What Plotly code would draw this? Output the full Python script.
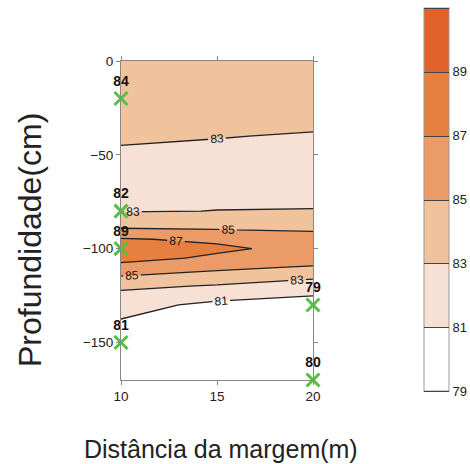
import plotly.graph_objects as go

# Grid (depth in cm, distance in m, value per column)
depth_cm = [0, -20, -40, -60, -80, -90, -95, -100, -105, -110, -115, -120, -125, -130, -140, -150, -170]
dist_m = [10, 15, 20]
value_at_10m = [84.5, 84.0, 83.2, 82.4, 82.9, 85.2, 87.2, 89.0, 87.8, 86.2, 84.9, 83.5, 82.4, 81.6, 80.8, 80.7, 80.5]
value_at_15m = [84.35, 83.9, 83.05, 82.35, 83.02, 85.05, 86.6, 87.4, 86.6, 85.4, 84.2, 82.8, 81.6, 80.6, 80.0, 80.1, 80.3]
value_at_20m = [84.2, 83.8, 82.9, 82.3, 83.05, 84.8, 86.0, 86.3, 86.0, 84.8, 83.2, 82.4, 81.05, 79.1, 79.3, 79.6, 80.0]

# Sampled points
sample_dist = [10, 10, 10, 10, 20, 20]
sample_depth = [-20, -80, -100, -150, -130, -170]
sample_value = [84, 82, 89, 81, 79, 80]

levels_start, levels_end, levels_step = 79, 91, 2
colorbar_ticks = [79, 81, 83, 85, 87, 89]
# band colours: 79-81, 81-83, 83-85, 85-87, 87-89, 89-91
band_colors = ["#ffffff", "#f6e1d4", "#f1c39c", "#eb9b67", "#e67f3f", "#df632b"]

z = [[a, b, c] for a, b, c in zip(value_at_10m, value_at_15m, value_at_20m)]

# colorscale for the contour fill (one extra slot on each end for <79 and >91)
fill_colors = [band_colors[0]] + band_colors + [band_colors[-1]]
fill_scale = [[i / (len(fill_colors) - 1), c] for i, c in enumerate(fill_colors)]
# stepped colorscale for the key
n = len(band_colors)
key_scale = []
for i, c in enumerate(band_colors):
    key_scale.append([i / n, c])
    key_scale.append([(i + 1) / n, c])

W, H = 470, 464
PLOT_L, PLOT_W = 121, 192
PLOT_TOP, PLOT_H = 61, 319
cb_common = dict(
    xref="container", x=424 / W, xanchor="left", xpad=0,
    yref="paper", y=1 + (PLOT_TOP - 8) / PLOT_H, yanchor="top", ypad=0,
    lenmode="pixels", len=383, thickness=25,
)

fig = go.Figure()
# colour key (bands)
fig.add_trace(go.Scatter(
    x=[sample_dist[0]], y=[sample_depth[0]], mode="markers",
    marker=dict(size=1, opacity=0, color=[levels_start], cmin=levels_start, cmax=levels_end,
                colorscale=key_scale, showscale=True,
                colorbar=dict(**cb_common, outlinecolor="#999", outlinewidth=1,
                              tickvals=colorbar_ticks, ticks="",
                              tickfont=dict(family="Arial", size=13, color="#222"))),
    hoverinfo="skip", showlegend=False,
))
# contour lines (also gives the level separators in the key)
fig.add_trace(go.Contour(
    x=dist_m, y=depth_cm, z=z,
    colorscale=[[0, "#444444"], [1, "#444444"]],
    contours=dict(start=levels_start, end=levels_end, size=levels_step, coloring="lines", showlabels=False),
    line=dict(width=1, smoothing=0),
    colorbar=dict(**cb_common, outlinewidth=0, showticklabels=False, ticks=""),
    hoverinfo="skip",
))
# filled contours with labels
fig.add_trace(go.Contour(
    x=dist_m, y=depth_cm, z=z,
    colorscale=fill_scale, showscale=False,
    contours=dict(start=levels_start, end=levels_end, size=levels_step, coloring="fill", showlabels=True,
                  labelfont=dict(family="Arial", size=12, color="#111")),
    line=dict(color="#222", width=1.3, smoothing=0),
    hoverinfo="skip",
))
fig.add_trace(go.Scatter(
    x=sample_dist, y=sample_depth,
    mode="markers+text",
    text=[str(v) for v in sample_value],
    textposition="top center",
    textfont=dict(family="Arial", size=14, color="#111", weight="bold"),
    marker=dict(symbol="x-thin", size=13, line=dict(width=3, color="#58c043")),
    cliponaxis=False,
    showlegend=False,
))

axis_common = dict(
    ticks="outside", ticklen=4, tickcolor="#888",
    showline=True, linecolor="#888", mirror="ticks",
    showgrid=False, zeroline=False,
    tickfont=dict(family="Arial", size=13.5, color="#222"),
    automargin=False,
)

fig.update_layout(
    width=W, height=H,
    margin=dict(l=PLOT_L, r=W - PLOT_L - PLOT_W, t=PLOT_TOP, b=H - PLOT_TOP - PLOT_H),
    paper_bgcolor="white", plot_bgcolor="white",
    showlegend=False,
    font=dict(family="Arial"),
    xaxis=dict(range=[10, 20], tickvals=[10, 15, 20], **axis_common),
    yaxis=dict(range=[-170, 0], tickvals=[0, -50, -100, -150], **axis_common),
    annotations=[
        dict(text="Profundidade(cm)", textangle=-90, showarrow=False,
             xref="paper", yref="paper",
             x=(30 - PLOT_L) / PLOT_W, y=1 - (240 - PLOT_TOP) / PLOT_H,
             xanchor="center", yanchor="middle",
             font=dict(family="Arial", size=32, color="#222")),
        dict(text="Distância da margem(m)", showarrow=False,
             xref="paper", yref="paper",
             x=(221 - PLOT_L) / PLOT_W, y=1 - (449 - PLOT_TOP) / PLOT_H,
             xanchor="center", yanchor="middle",
             font=dict(family="Arial", size=25, color="#222")),
    ],
)

fig.write_html("out.html", config={"displayModeBar": False},
               post_script="document.body.style.margin='0';")
